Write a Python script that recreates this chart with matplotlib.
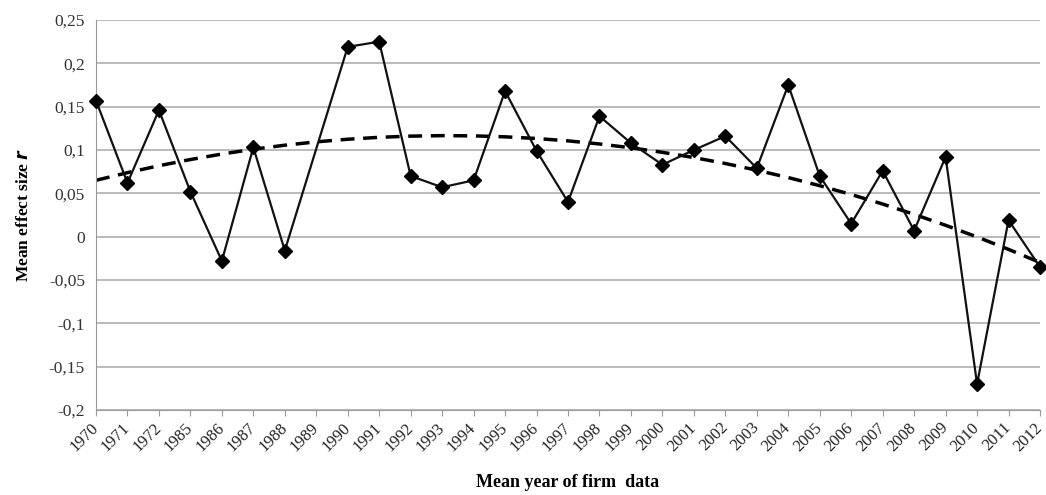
import numpy as np
import matplotlib
matplotlib.use('Agg')
import matplotlib.pyplot as plt
from matplotlib.ticker import FuncFormatter, MultipleLocator

plt.rcParams['font.family'] = ['Liberation Serif', 'DejaVu Serif']

years = ['1970', '1971', '1972', '1985', '1986', '1987', '1988', '1989', '1990',
         '1991', '1992', '1993', '1994', '1995', '1996', '1997', '1998', '1999',
         '2000', '2001', '2002', '2003', '2004', '2005', '2006', '2007', '2008',
         '2009', '2010', '2011', '2012']
# 1989 has no value; the line just connects 1988 and 1990
effect = [0.157, 0.062, 0.146, 0.052, -0.028, 0.103, -0.016, np.nan, 0.219,
          0.225, 0.070, 0.057, 0.065, 0.168, 0.099, 0.040, 0.139, 0.108,
          0.083, 0.100, 0.116, 0.079, 0.175, 0.070, 0.015, 0.076, 0.007,
          0.092, -0.170, 0.019, -0.035]

x = np.arange(len(years))
y = np.array(effect)
ok = ~np.isnan(y)

fig = plt.figure(figsize=(10.46, 4.95), dpi=100)
ax = fig.add_axes([96 / 1046, 1 - 410 / 495, (1040 - 96) / 1046, 390 / 495])

# polynomial (order 2) trend line, as in the spreadsheet
coef = np.polyfit(x[ok] + 1, y[ok], 2)
ax.plot(x, np.polyval(coef, x + 1), '--', color='black', lw=2.5,
        dashes=(4, 2.5), zorder=2)

ax.plot(x[ok], y[ok], '-', color='#111111', lw=1.6, marker='D', ms=7.5,
        mfc='black', mec='black', clip_on=False, zorder=3)

ax.set_xlim(0, len(years) - 1)
ax.set_ylim(-0.2, 0.25)
ax.yaxis.set_major_locator(MultipleLocator(0.05))
ax.yaxis.set_major_formatter(FuncFormatter(lambda v, p: ('%g' % round(v, 2)).replace('.', ',')))
ax.grid(axis='y', color='#b5b5b5', lw=1.3)
ax.set_axisbelow(True)

ax.set_xticks(x)
ax.set_xticklabels(years, rotation=45, ha='right', va='center', rotation_mode='anchor',
                   fontsize=12, color='#222222')
ax.tick_params(axis='x', length=4, color='#999999', pad=7)
ax.tick_params(axis='y', length=0, labelsize=12.5, colors='#333333', pad=8)

for s in ['top', 'right']:
    ax.spines[s].set_visible(False)
ax.spines['left'].set_color('#999999')
ax.spines['bottom'].set_color('#999999')

ax.set_ylabel(r'Mean effect size $\mathbfit{r}$', fontsize=12.5, fontweight='bold', labelpad=12)
ax.set_xlabel('Mean year of firm  data', fontsize=13, fontweight='bold', labelpad=14)

plt.savefig('out.png', dpi=100)
